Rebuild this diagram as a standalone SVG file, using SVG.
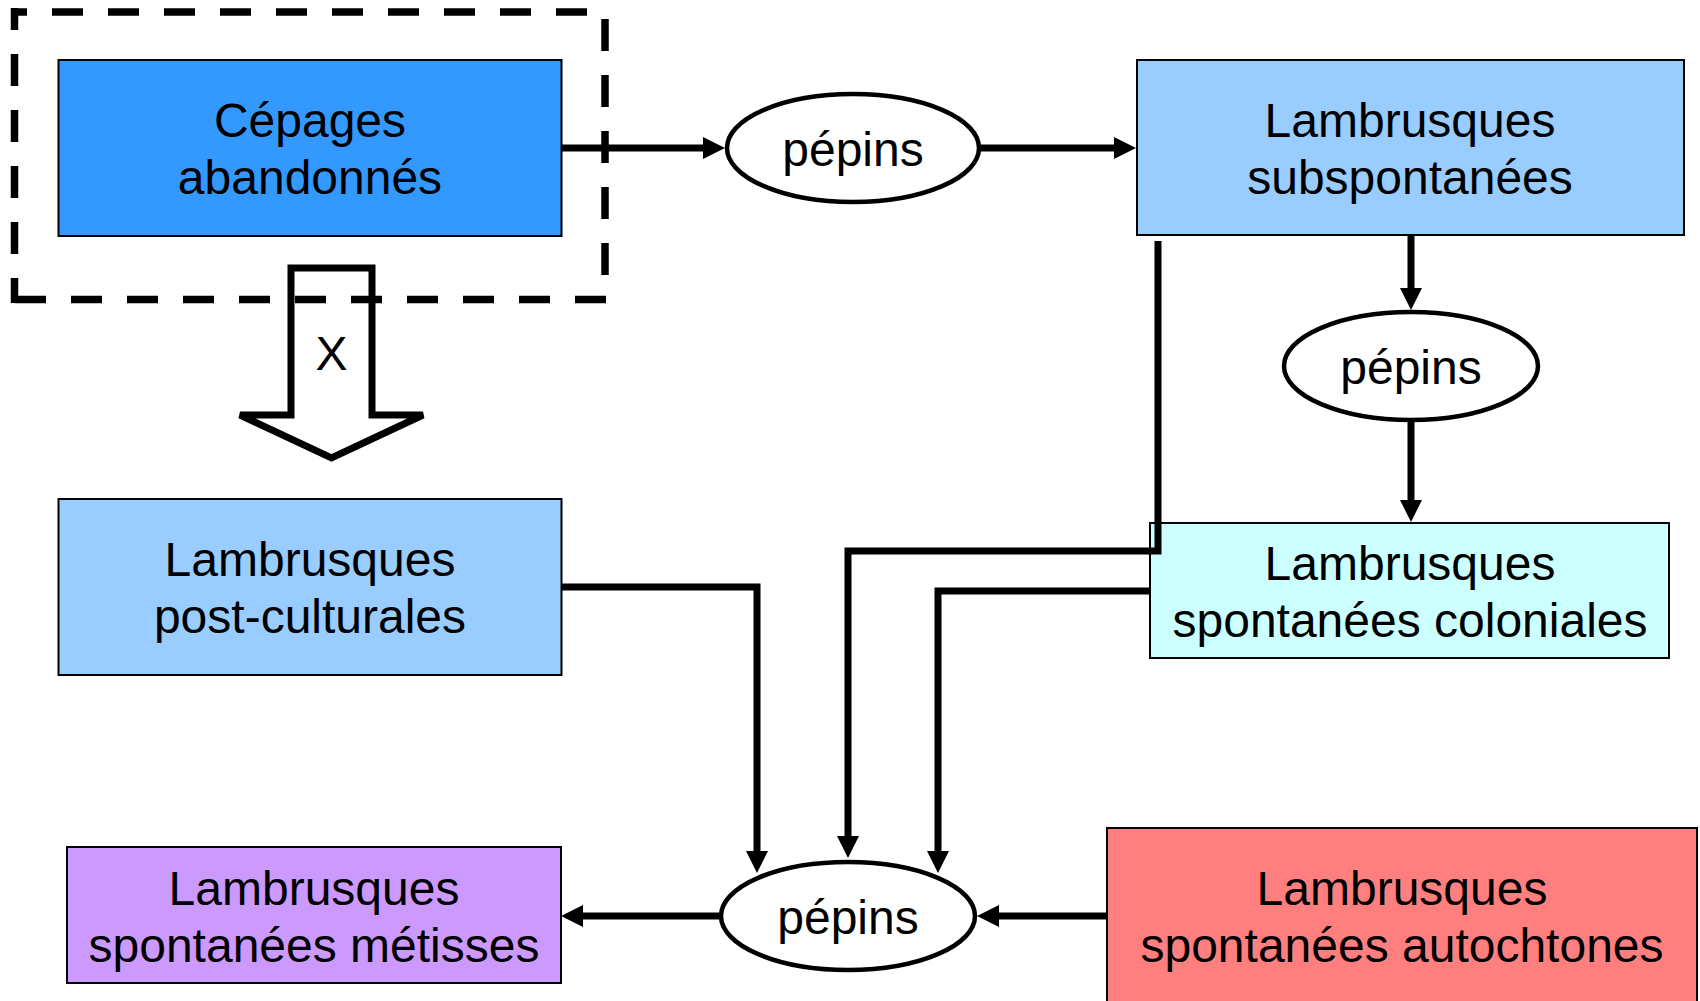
<svg xmlns="http://www.w3.org/2000/svg" width="1700" height="1001" viewBox="0 0 1700 1001">
<style>
.box{stroke:#000;stroke-width:2}
.ell{fill:#fff;stroke:#000;stroke-width:4.5}
.t{font-family:"Liberation Sans",Arial,sans-serif;font-size:48px;fill:#000;text-anchor:middle}
.c{fill:none;stroke:#000;stroke-width:7;stroke-linejoin:miter}
.arr{marker-end:url(#ah)}
.dash{fill:none;stroke:#000;stroke-width:7.5}
</style>
<defs>
<marker id="ah" markerUnits="userSpaceOnUse" markerWidth="22" markerHeight="22" viewBox="0 0 22 22" refX="12" refY="11" orient="auto">
<path d="M0,0 L22,11 L0,22 z" fill="#000"/>
</marker>
</defs>
<rect width="1700" height="1001" fill="#fff"/>

<g id="node-cepages">
<rect class="box" x="58.5" y="60" width="503" height="176" fill="#3399FF"/>
<text class="t" x="310" y="137">Cépages</text>
<text class="t" x="310" y="194">abandonnés</text>
</g>

<g id="node-subspontanees">
<rect class="box" x="1137" y="60" width="547" height="175" fill="#99CCFF"/>
<text class="t" x="1410" y="137">Lambrusques</text>
<text class="t" x="1410" y="194">subspontanées</text>
</g>

<g id="node-pepins1">
<ellipse class="ell" cx="853" cy="148" rx="126" ry="54"/>
<text class="t" x="853" y="166">pépins</text>
</g>

<g id="node-pepins2">
<ellipse class="ell" cx="1411" cy="366" rx="127" ry="54"/>
<text class="t" x="1411" y="384">pépins</text>
</g>

<g id="node-coloniales">
<rect class="box" x="1150" y="523" width="519" height="135" fill="#CCFFFF"/>
<text class="t" x="1410" y="580">Lambrusques</text>
<text class="t" x="1410" y="637">spontanées coloniales</text>
</g>

<g id="node-postculturales">
<rect class="box" x="58.5" y="499" width="503" height="176" fill="#99CCFF"/>
<text class="t" x="310" y="576">Lambrusques</text>
<text class="t" x="310" y="633">post-culturales</text>
</g>

<g id="node-metisses">
<rect class="box" x="67" y="847" width="494" height="136" fill="#CC99FF"/>
<text class="t" x="314" y="905">Lambrusques</text>
<text class="t" x="314" y="962">spontanées métisses</text>
</g>

<g id="node-autochtones">
<rect class="box" x="1107" y="828" width="590" height="190" fill="#FF7F7F"/>
<text class="t" x="1402" y="905">Lambrusques</text>
<text class="t" x="1402" y="962">spontanées autochtones</text>
</g>

<g id="node-pepins3">
<ellipse class="ell" cx="848" cy="916" rx="127" ry="54"/>
<text class="t" x="848" y="934">pépins</text>
</g>

<g id="group-frame">
<line class="dash" x1="11" y1="12" x2="600" y2="12" stroke-dasharray="31 25" stroke-dashoffset="15"/>
<line class="dash" x1="14.5" y1="8" x2="14.5" y2="303" stroke-dasharray="32 24" stroke-dashoffset="10"/>
<line class="dash" x1="605" y1="19" x2="605" y2="299" stroke-dasharray="32 24"/>
<line class="dash" x1="15" y1="299.5" x2="609" y2="299.5" stroke-dasharray="31 25"/>
</g>

<g id="hollow-arrow">
<polygon points="291,268 372,268 372,415 423,415 331.5,458 240,415 291,415" fill="none" stroke="#000" stroke-width="7" stroke-linejoin="miter"/>
<text class="t" x="331.5" y="370">X</text>
</g>

<g id="connectors">
<path class="c arr" d="M561,148 H715"/>
<path class="c arr" d="M979,148 H1126"/>
<path class="c arr" d="M1411,235 V300"/>
<path class="c arr" d="M1411,420 V512"/>
<path class="c arr" d="M561,587 H757 V863"/>
<path class="c arr" d="M1158,241 V551 H848 V848"/>
<path class="c arr" d="M1150,591 H938 V863"/>
<path class="c arr" d="M1107,916 H987"/>
<path class="c arr" d="M721,916 H571"/>
</g>
</svg>
